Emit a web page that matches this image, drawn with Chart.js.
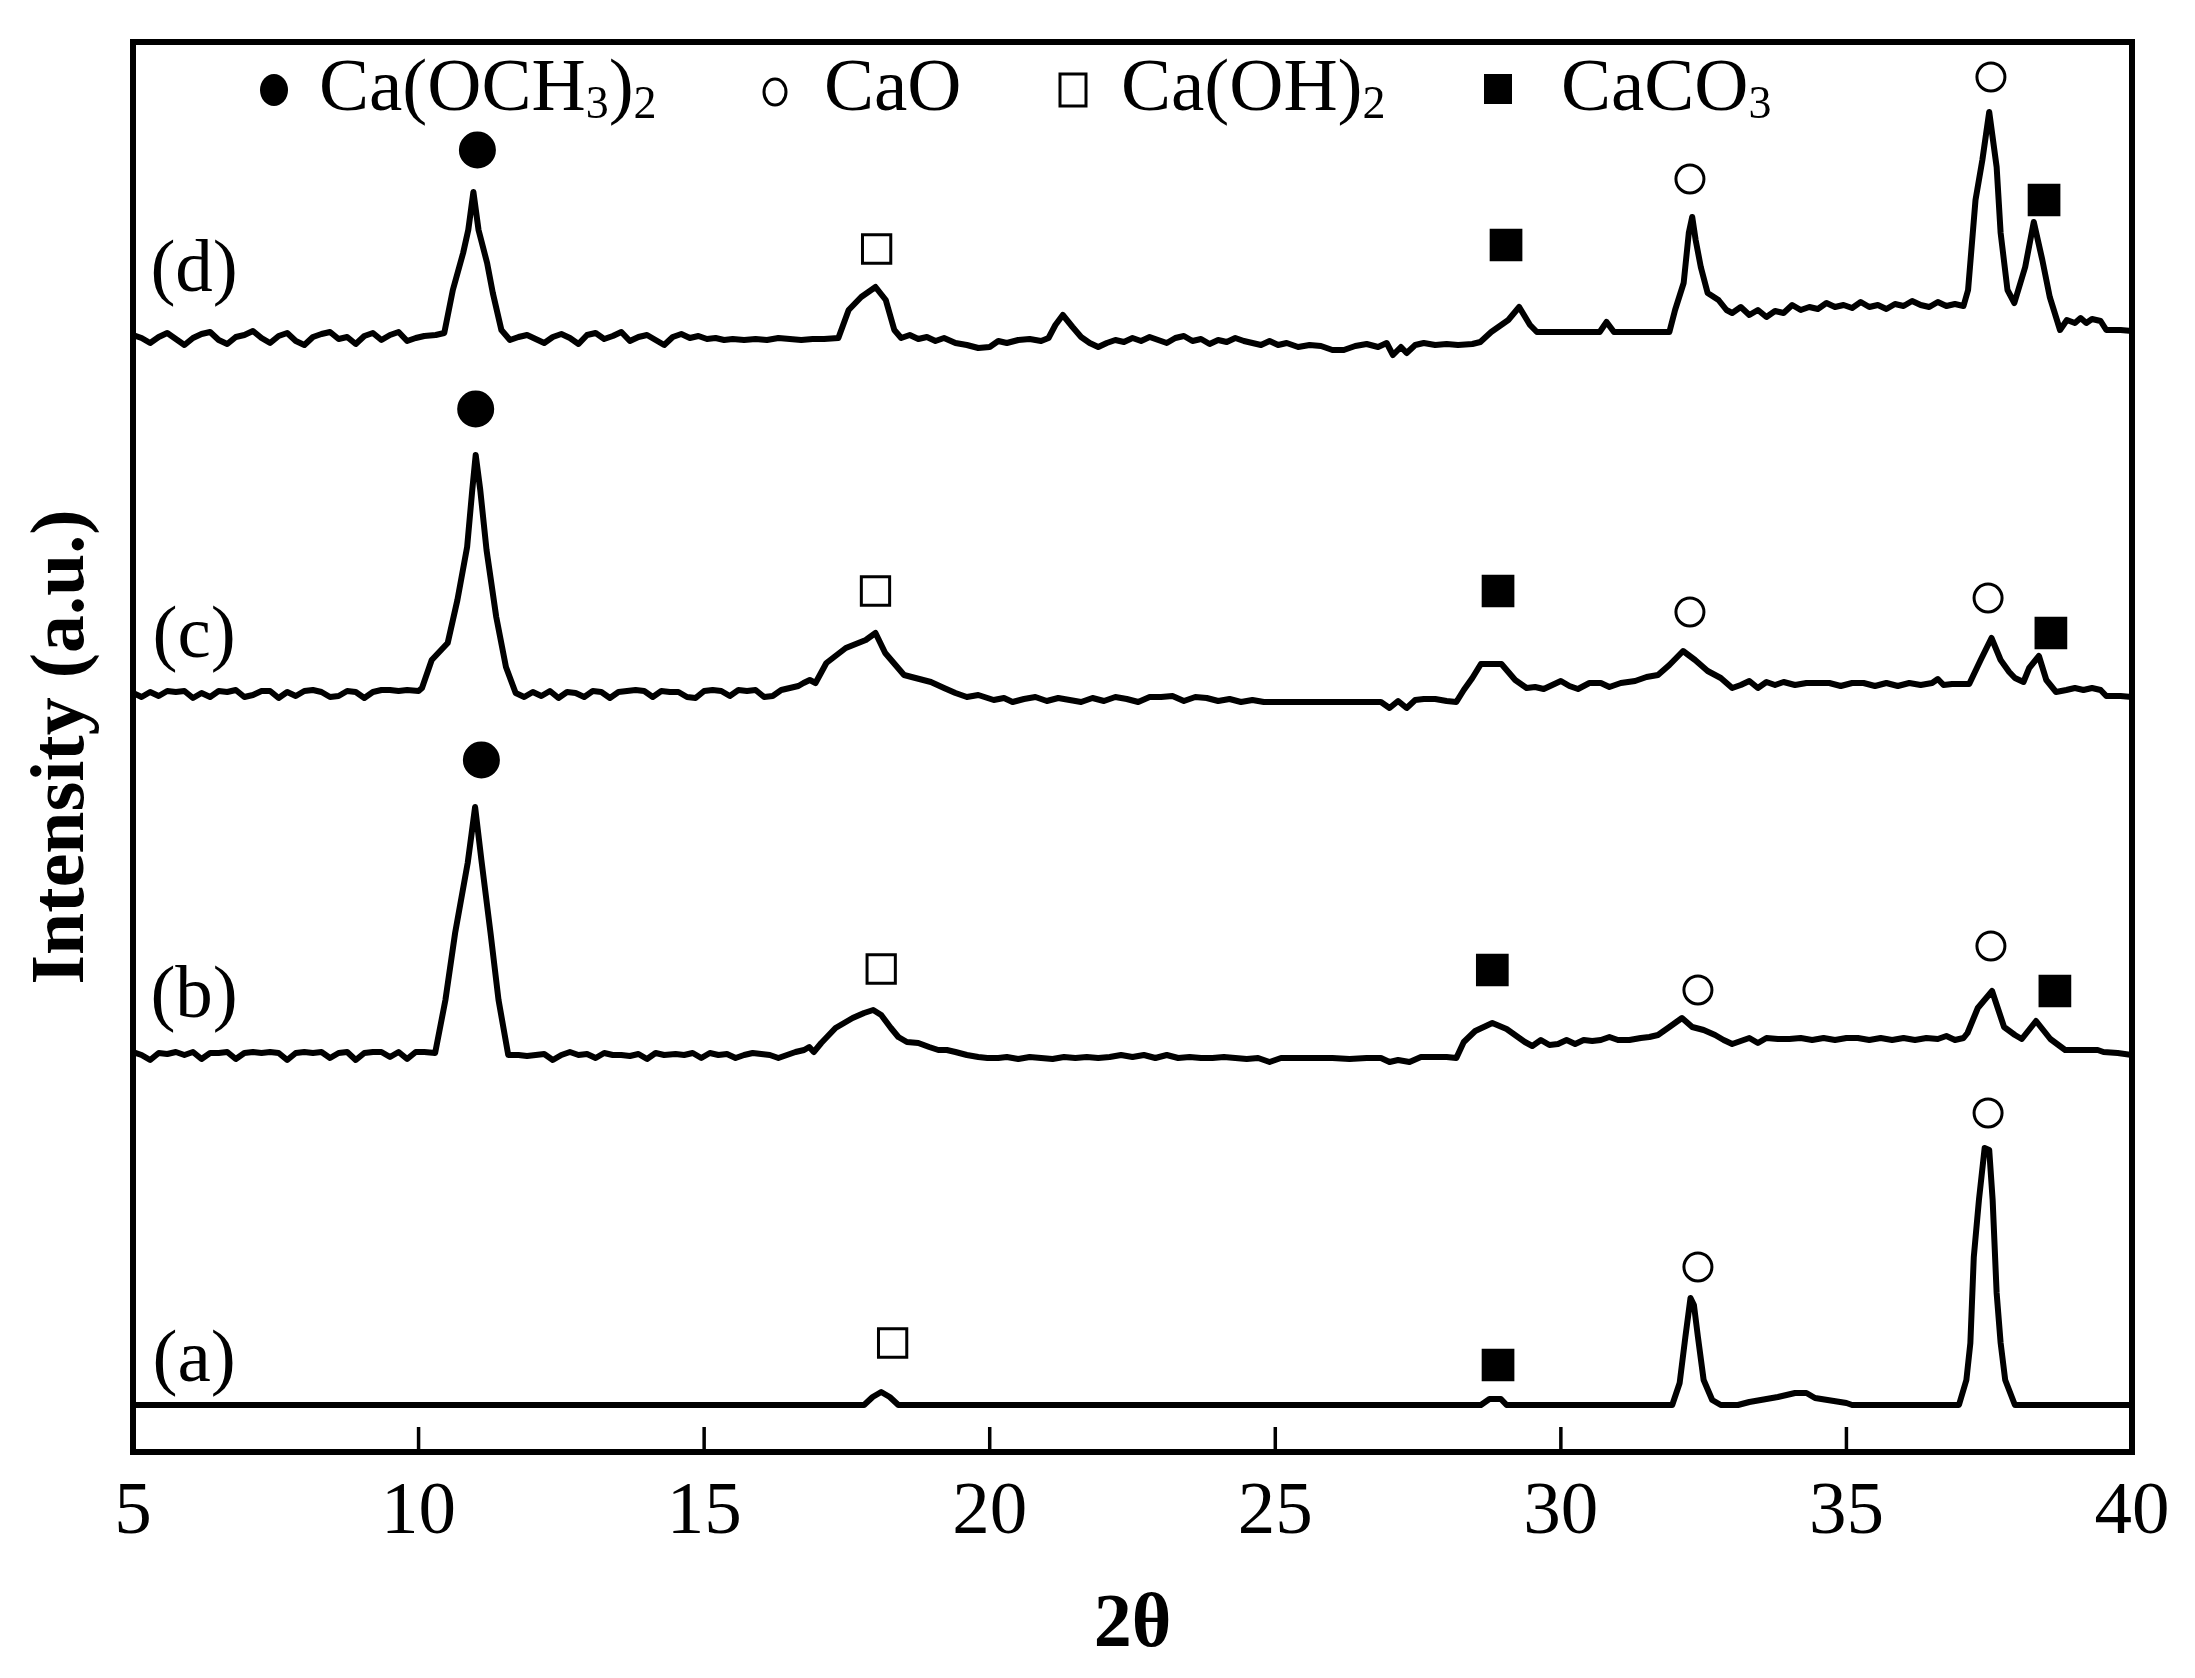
<!DOCTYPE html>
<html>
<head>
<meta charset="utf-8">
<title>XRD patterns</title>
<script src="https://cdn.jsdelivr.net/npm/chart.js@4.4.0/dist/chart.umd.min.js"></script>
<style>
  html, body { margin: 0; padding: 0; background: #fff; }
  canvas { display: block; }
</style>
</head>
<body>
<canvas id="xrd" width="2195" height="1678"></canvas>
<script>
// 2theta / intensity pairs, each pattern relative to its own baseline
const patternA = [
  [5,0],[17.8,0],[17.95,8],[18.1,13],[18.25,8],[18.4,0],[28.6,0],[28.75,6],[28.95,6],[29.05,0],
  [31.95,0],[32.08,22],[32.18,68],[32.27,107],[32.33,100],[32.4,68],[32.5,25],[32.65,5],[32.8,0],
  [33.1,0],[33.3,3],[33.8,8],[34.1,12],[34.3,12],[34.45,7],[35.0,2],[35.1,0],
  [36.97,0],[37.1,25],[37.17,62],[37.23,148],[37.32,205],[37.42,257],[37.5,255],[37.56,205],
  [37.63,112],[37.7,62],[37.78,25],[37.95,0],[40,0]
];

const patternB = [
  [5,3],[5.15,0],[5.3,-5],[5.45,2],[5.6,1],[5.75,3],[5.9,0],[6.05,3],[6.2,-4],[6.35,2],[6.5,2],
  [6.65,3],[6.8,-4],[6.95,2],[7.1,3],[7.25,2],[7.4,3],[7.55,2],[7.7,-5],[7.85,2],[8.0,3],[8.15,2],
  [8.3,3],[8.45,-3],[8.6,2],[8.75,3],[8.9,-5],[9.05,2],[9.2,3],[9.35,3],[9.5,-2],[9.65,3],[9.8,-4],
  [9.95,3],[10.1,3],[10.29,2],[10.47,55],[10.64,122],[10.86,192],[10.93,222],[10.99,248],[11.1,195],
  [11.26,122],[11.4,55],[11.57,0],[11.75,0],[11.9,-1],[12.05,0],[12.2,1],[12.35,-5],[12.5,0],
  [12.65,3],[12.8,0],[12.95,1],[13.1,-3],[13.25,2],[13.4,0],[13.55,0],[13.7,-1],[13.85,1],[14.0,-4],
  [14.15,2],[14.3,0],[14.5,1],[14.65,0],[14.8,2],[14.95,-3],[15.1,2],[15.25,0],[15.4,1],[15.55,-3],
  [15.7,0],[15.85,2],[16.0,1],[16.15,0],[16.3,-3],[16.45,0],[16.6,3],[16.75,5],[16.84,8],[16.92,3],
  [17.05,12],[17.3,27],[17.6,37],[17.8,42],[17.96,45],[18.1,40],[18.27,27],[18.4,18],[18.55,13],
  [18.75,12],[18.94,8],[19.1,5],[19.25,5],[19.4,3],[19.6,0],[19.8,-2],[19.96,-3],[20.15,-3],
  [20.3,-2],[20.5,-4],[20.7,-2],[20.9,-3],[21.1,-4],[21.3,-2],[21.5,-3],[21.7,-2],[21.9,-3],
  [22.1,-2],[22.3,0],[22.5,-2],[22.7,0],[22.9,-3],[23.1,0],[23.3,-3],[23.5,-2],[23.7,-3],[23.9,-3],
  [24.1,-2],[24.3,-3],[24.5,-4],[24.7,-3],[24.9,-7],[25.1,-3],[25.4,-3],[25.7,-3],[26.0,-3],
  [26.3,-4],[26.6,-3],[26.85,-3],[27.0,-7],[27.15,-5],[27.35,-7],[27.55,-2],[27.8,-2],[28.0,-2],
  [28.17,-3],[28.3,13],[28.5,24],[28.8,32],[29.05,26],[29.37,13],[29.5,9],[29.65,15],[29.8,10],
  [29.95,11],[30.1,15],[30.25,11],[30.4,15],[30.55,14],[30.7,15],[30.85,18],[31.0,15],[31.2,15],
  [31.4,17],[31.55,18],[31.7,20],[31.9,28],[32.12,37],[32.3,28],[32.5,25],[32.7,20],[32.85,15],
  [33.0,11],[33.15,14],[33.3,17],[33.45,12],[33.6,17],[33.8,16],[34.0,16],[34.2,17],[34.4,15],
  [34.6,17],[34.8,15],[35.0,17],[35.2,17],[35.4,15],[35.6,17],[35.8,15],[36.0,17],[36.2,15],
  [36.4,17],[36.6,16],[36.75,19],[36.9,15],[37.05,17],[37.12,22],[37.3,47],[37.55,64],[37.76,28],
  [37.95,20],[38.07,16],[38.32,34],[38.57,16],[38.83,5],[39.0,5],[39.2,5],[39.4,5],[39.5,3],
  [39.75,2],[40,0]
];

const patternC = [
  [5,7],[5.15,3],[5.3,8],[5.45,4],[5.6,9],[5.75,8],[5.9,9],[6.05,2],[6.2,7],[6.35,3],[6.5,9],
  [6.65,8],[6.8,10],[6.95,3],[7.1,5],[7.25,9],[7.4,9],[7.55,2],[7.7,8],[7.85,4],[8.0,9],[8.15,10],
  [8.3,8],[8.45,3],[8.6,4],[8.75,9],[8.9,8],[9.05,2],[9.2,8],[9.35,10],[9.5,10],[9.65,9],[9.8,10],
  [10.0,9],[10.06,12],[10.23,40],[10.51,57],[10.68,100],[10.85,153],[10.94,210],[11.0,245],
  [11.08,210],[11.19,150],[11.36,83],[11.53,33],[11.7,7],[11.85,3],[12.0,8],[12.15,4],[12.3,9],
  [12.45,2],[12.6,8],[12.75,7],[12.9,3],[13.05,9],[13.2,8],[13.35,2],[13.5,8],[13.65,9],[13.8,10],
  [13.95,9],[14.1,3],[14.25,9],[14.4,8],[14.55,8],[14.7,3],[14.85,2],[15.0,9],[15.15,10],[15.3,9],
  [15.45,4],[15.6,10],[15.75,9],[15.9,10],[16.05,3],[16.2,4],[16.35,10],[16.5,12],[16.65,14],
  [16.74,17],[16.85,20],[16.95,17],[17.14,37],[17.48,52],[17.83,60],[18.0,67],[18.17,47],
  [18.35,35],[18.5,25],[18.7,22],[18.97,18],[19.2,12],[19.4,7],[19.6,3],[19.8,5],[20.07,0],
  [20.25,2],[20.4,-2],[20.6,1],[20.8,3],[21.0,-1],[21.2,2],[21.4,0],[21.6,-2],[21.8,2],[22.0,-1],
  [22.2,3],[22.4,1],[22.6,-2],[22.8,3],[23.0,3],[23.2,4],[23.4,-1],[23.6,3],[23.8,2],[24.0,-1],
  [24.2,1],[24.4,-2],[24.6,0],[24.8,-2],[25.0,-2],[25.3,-2],[25.6,-2],[25.9,-2],[26.2,-2],
  [26.5,-2],[26.85,-2],[27.0,-8],[27.15,-1],[27.3,-8],[27.45,0],[27.6,1],[27.8,1],[28.0,-1],
  [28.17,-2],[28.3,10],[28.45,22],[28.6,36],[28.8,36],[28.96,36],[29.2,20],[29.4,12],[29.55,13],
  [29.7,11],[29.85,15],[30.0,19],[30.15,14],[30.3,11],[30.5,17],[30.7,17],[30.85,13],[31.05,17],
  [31.3,19],[31.5,23],[31.7,25],[31.9,35],[32.14,49],[32.35,40],[32.57,29],[32.8,22],[33.0,12],
  [33.15,15],[33.3,19],[33.45,12],[33.6,18],[33.75,15],[33.9,18],[34.1,15],[34.3,17],[34.5,17],
  [34.7,17],[34.9,14],[35.1,17],[35.3,17],[35.5,14],[35.7,17],[35.9,14],[36.1,17],[36.3,15],
  [36.5,17],[36.6,21],[36.7,15],[36.85,16],[37.0,16],[37.15,16],[37.35,40],[37.54,62],[37.7,40],
  [37.85,28],[37.95,22],[38.1,18],[38.2,32],[38.37,44],[38.5,20],[38.67,8],[38.85,10],[39.0,12],
  [39.15,10],[39.3,12],[39.45,10],[39.55,4],[39.8,4],[40,3]
];

const patternD = [
  [5,0],[5.15,-3],[5.3,-8],[5.45,-2],[5.6,2],[5.75,-4],[5.9,-10],[6.05,-3],[6.2,1],[6.35,3],
  [6.5,-5],[6.65,-9],[6.8,-2],[6.95,0],[7.1,4],[7.25,-3],[7.4,-8],[7.55,-1],[7.7,2],[7.85,-6],
  [8.0,-10],[8.15,-2],[8.3,1],[8.45,3],[8.6,-4],[8.75,-2],[8.9,-9],[9.05,-1],[9.2,2],[9.35,-5],
  [9.5,0],[9.65,3],[9.8,-6],[9.95,-3],[10.1,-1],[10.3,0],[10.45,2],[10.6,45],[10.78,82],
  [10.87,105],[10.96,143],[11.05,105],[11.2,72],[11.3,42],[11.45,5],[11.6,-5],[11.75,-2],[11.9,0],
  [12.05,-4],[12.2,-8],[12.35,-2],[12.5,1],[12.65,-3],[12.8,-9],[12.95,0],[13.1,2],[13.25,-4],
  [13.4,-1],[13.55,3],[13.7,-6],[13.85,-2],[14.0,0],[14.15,-5],[14.3,-10],[14.45,-2],[14.6,1],
  [14.75,-3],[14.9,-1],[15.05,-4],[15.2,-3],[15.35,-5],[15.5,-4],[15.7,-5],[15.9,-4],[16.1,-5],
  [16.3,-3],[16.5,-4],[16.7,-5],[16.9,-4],[17.1,-4],[17.35,-3],[17.53,25],[17.75,38],[18.0,48],
  [18.18,35],[18.33,5],[18.45,-3],[18.6,0],[18.75,-4],[18.9,-2],[19.05,-6],[19.2,-3],[19.4,-8],
  [19.6,-10],[19.8,-13],[20.0,-12],[20.15,-6],[20.3,-8],[20.5,-5],[20.7,-4],[20.9,-6],[21.03,-3],
  [21.15,10],[21.28,20],[21.45,8],[21.6,-2],[21.75,-8],[21.9,-12],[22.05,-8],[22.2,-5],[22.35,-7],
  [22.5,-3],[22.65,-6],[22.8,-2],[22.95,-5],[23.1,-8],[23.25,-3],[23.4,-1],[23.55,-6],[23.7,-4],
  [23.85,-9],[24.0,-5],[24.15,-7],[24.3,-3],[24.45,-6],[24.6,-8],[24.75,-10],[24.9,-6],[25.05,-10],
  [25.2,-8],[25.4,-12],[25.6,-10],[25.8,-11],[26.0,-15],[26.2,-15],[26.4,-11],[26.6,-9],[26.8,-12],
  [26.95,-8],[27.06,-20],[27.2,-12],[27.3,-18],[27.45,-10],[27.6,-8],[27.8,-10],[28.0,-9],
  [28.2,-10],[28.45,-9],[28.59,-7],[28.78,3],[29.08,15],[29.27,28],[29.46,10],[29.58,3],[30.68,3],
  [30.8,13],[30.93,3],[31.9,3],[32.0,25],[32.15,52],[32.24,102],[32.3,118],[32.36,95],[32.45,68],
  [32.57,42],[32.76,35],[32.9,25],[33.0,22],[33.15,28],[33.3,20],[33.45,25],[33.6,18],[33.75,24],
  [33.9,22],[34.05,30],[34.2,25],[34.35,28],[34.5,26],[34.65,32],[34.8,28],[34.95,30],[35.1,27],
  [35.25,33],[35.4,28],[35.55,30],[35.7,26],[35.85,31],[36.0,29],[36.15,34],[36.3,30],[36.45,28],
  [36.6,33],[36.75,29],[36.9,31],[37.05,29],[37.13,45],[37.26,135],[37.38,175],[37.5,223],
  [37.63,168],[37.7,102],[37.82,45],[37.94,32],[38.13,68],[38.28,113],[38.43,75],[38.56,38],
  [38.74,5],[38.86,15],[39.0,12],[39.1,17],[39.2,12],[39.3,16],[39.45,14],[39.55,5],[39.8,5],[40,4]
];

const sampleNames = ['(a)', '(b)', '(c)', '(d)'];
const offsets = [47, 397, 752, 1117];          // vertical stacking of the patterns
const labelX = 6.07;                            // 2theta where the sample labels sit
const labelY = [71, 435, 795, 1161];

// phase markers above the peaks (2theta, stacked intensity)
const och3X = [11.03, 11.0, 11.1];
const och3Y = [1302, 1043, 692];
const caoX = [32.26, 37.53, 32.26, 37.48, 32.4, 37.53, 32.4, 37.48];
const caoY = [1273, 1375, 840, 854, 462, 506, 185, 339];
const ohX = [18.02, 18.0, 18.1, 18.3];
const ohY = [1203, 861, 483, 109];
const co3X = [29.04, 38.46, 28.9, 38.58, 28.8, 38.65, 28.9];
const co3Y = [1207, 1252, 861, 819, 482, 461, 87];

const xTicks = [5, 10, 15, 20, 25, 30, 35, 40];

const SERIF = '"Liberation Serif", "Times New Roman", serif';
Chart.defaults.font.family = SERIF;
Chart.defaults.color = '#000';

const lineSets = [patternA, patternB, patternC, patternD].map((p, i) => ({
  label: sampleNames[i],
  data: p.map(([t, v]) => ({ x: t, y: v + offsets[i] })),
  borderColor: '#000',
  borderWidth: 6,
  borderJoinStyle: 'round',
  pointRadius: 0,
  fill: false,
  tension: 0
}));

function markerSet(label, xs, ys, style, fill, r) {
  return {
    label: label,
    data: xs.map((t, i) => ({ x: t, y: ys[i] })),
    showLine: false,
    pointStyle: style,
    pointRadius: r,
    pointHoverRadius: r,
    pointBackgroundColor: fill,
    pointBorderColor: '#000',
    pointBorderWidth: 3
  };
}

const markerSets = [
  markerSet('Ca(OCH3)2', och3X, och3Y, 'circle', '#000', 17),
  markerSet('CaO', caoX, caoY, 'circle', '#fff', 14),
  markerSet('Ca(OH)2', ohX, ohY, 'rect', '#fff', 20),
  markerSet('CaCO3', co3X, co3Y, 'rect', '#000', 21)
];

// legend entries: text pieces, true = subscript
const legendItems = [
  { mark: 'dot', dx: 141, gap: 45, parts: [['Ca(OCH', false], ['3', true], [')', false], ['2', true]] },
  { mark: 'ring', dx: 642, gap: 49, parts: [['CaO', false]] },
  { mark: 'box', dx: 940, gap: 48, parts: [['Ca(OH)', false], ['2', true]] },
  { mark: 'block', dx: 1365, gap: 63, parts: [['CaCO', false], ['3', true]] }
];

const decor = {
  id: 'decor',
  afterDatasetsDraw(chart) {
    const { ctx, chartArea: a, scales: { x, y } } = chart;
    ctx.save();
    ctx.strokeStyle = '#000';
    ctx.fillStyle = '#000';

    // frame
    ctx.lineWidth = 6;
    ctx.strokeRect(a.left, a.top, a.right - a.left, a.bottom - a.top);

    // inward tick marks
    ctx.lineWidth = 3.5;
    x.ticks.forEach(t => {
      if (t.value <= x.min || t.value >= x.max) return;
      const px = x.getPixelForValue(t.value);
      ctx.beginPath();
      ctx.moveTo(px, a.bottom);
      ctx.lineTo(px, a.bottom - 25);
      ctx.stroke();
    });

    // sample labels
    ctx.font = '75px ' + SERIF;
    ctx.textAlign = 'center';
    ctx.textBaseline = 'alphabetic';
    sampleNames.forEach((s, i) => {
      ctx.fillText(s, x.getPixelForValue(labelX), y.getPixelForValue(labelY[i]));
    });

    // legend
    const my = a.top + 48;
    const base = a.top + 68;
    ctx.textAlign = 'left';
    legendItems.forEach(item => {
      const cx = a.left + item.dx;
      ctx.lineWidth = 3;
      if (item.mark === 'dot') {
        ctx.beginPath(); ctx.ellipse(cx, my, 14, 16, 0, 0, Math.PI * 2); ctx.fill();
      } else if (item.mark === 'ring') {
        ctx.beginPath(); ctx.ellipse(cx, my + 2, 11, 13, 0, 0, Math.PI * 2); ctx.stroke();
      } else if (item.mark === 'box') {
        ctx.strokeRect(cx - 13, my - 16, 26, 32);
      } else {
        ctx.fillRect(cx - 14, my - 16, 28, 30);
      }
      let tx = cx + item.gap;
      item.parts.forEach(([txt, sub]) => {
        ctx.font = (sub ? '46px ' : '75px ') + SERIF;
        ctx.fillText(txt, tx, sub ? base + 8 : base);
        tx += ctx.measureText(txt).width;
      });
    });
    ctx.restore();
  }
};

new Chart(document.getElementById('xrd'), {
  type: 'line',
  data: { datasets: lineSets.concat(markerSets) },
  options: {
    responsive: false,
    devicePixelRatio: 1,
    animation: false,
    layout: { padding: { top: 42, right: 63, bottom: 0, left: 0 } },
    plugins: { legend: { display: false }, tooltip: { enabled: false } },
    scales: {
      x: {
        type: 'linear',
        min: 5,
        max: 40,
        afterBuildTicks: s => { s.ticks = xTicks.map(v => ({ value: v })); },
        ticks: { color: '#000', padding: 16, maxRotation: 0, font: { size: 75, lineHeight: 1.2 } },
        grid: { display: false, drawTicks: false },
        border: { display: false },
        title: {
          display: true, text: '2θ', color: '#000',
          font: { size: 76, weight: 'bold', lineHeight: 1.2 },
          padding: { top: 0, bottom: 6 }
        },
        afterFit: s => { s.height = 226; }
      },
      y: {
        min: 0,
        max: 1410,
        ticks: { display: false },
        grid: { display: false, drawTicks: false },
        border: { display: false },
        title: {
          display: true, text: 'Intensity (a.u.)', color: '#000',
          font: { size: 76, weight: 'bold', lineHeight: 1.2 },
          padding: { top: 18, bottom: 0 }
        },
        afterFit: s => { s.width = 133; }
      }
    }
  },
  plugins: [decor]
});
</script>
</body>
</html>
